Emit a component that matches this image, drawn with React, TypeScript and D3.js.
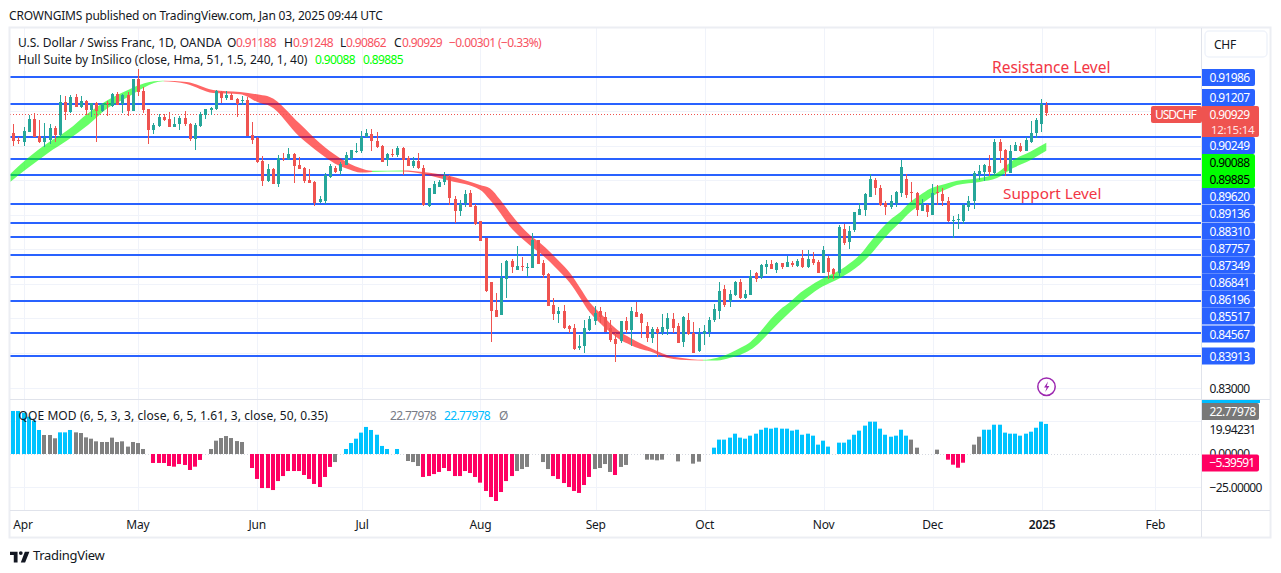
import React from "react";
import * as d3 from "d3";

// Prices below are in units of 0.0001 CHF.
const opens = [9036,9017,9011,9040,9077,9028,9011,9016,9051,9031,9126,9097,9141,9113,9130,9103,9122,9100,9122,9115,
9149,9120,9147,9101,9193,9158,9105,9045,9057,9084,9076,9054,9064,9079,9063,9020,9057,9089,9103,9107,
9156,9138,9147,9134,9130,9132,9030,9022,8955,8899,8933,8889,8963,8961,8976,8944,8935,8901,8895,8837,
8840,8910,8936,8928,8944,8963,8983,8985,9024,9034,9013,8999,8957,8976,8973,8992,8965,8941,8956,8934,
8825,8861,8881,8894,8910,8845,8812,8833,8862,8825,8782,8732,8606,8524,8510,8613,8666,8640,8652,8647,
8646,8727,8661,8629,8539,8513,8520,8478,8472,8415,8420,8465,8493,8520,8505,8471,8441,8436,8493,8467,
8518,8513,8478,8444,8469,8460,8468,8497,8478,8433,8496,8457,8406,8455,8462,8496,8522,8584,8549,8568,
8605,8559,8569,8631,8619,8650,8658,8640,8659,8650,8660,8653,8676,8650,8672,8663,8632,8675,8643,8630,
8759,8721,8756,8800,8814,8852,8901,8877,8833,8821,8835,8864,8904,8866,8863,8812,8827,8799,8866,8860,
8839,8782,8787,8782,8823,8840,8918,8925,8941,8922,9011,8986,8922,8984,8999,8985,9011,9036,9063,9119];
const closes = [9014,9014,9042,9077,9024,9011,9021,9051,9031,9126,9097,9142,9113,9129,9103,9122,9100,9120,9120,9150,
9118,9147,9100,9193,9155,9103,9045,9060,9084,9074,9054,9064,9081,9063,9020,9060,9092,9105,9108,9157,
9139,9147,9132,9120,9132,9028,9016,8954,8899,8933,8889,8963,8961,8976,8941,8932,8899,8892,8833,8845,
8914,8941,8924,8947,8973,8987,8985,9024,9036,9012,8997,8954,8976,8973,8993,8959,8941,8956,8935,8828,
8877,8889,8895,8912,8849,8812,8832,8860,8823,8774,8725,8578,8520,8505,8618,8666,8650,8652,8648,8649,
8727,8658,8626,8536,8513,8522,8471,8469,8412,8421,8471,8497,8515,8503,8461,8438,8426,8493,8467,8522,
8505,8488,8442,8469,8457,8474,8500,8473,8430,8505,8454,8401,8455,8464,8496,8527,8579,8538,8570,8605,
8558,8571,8623,8615,8655,8658,8643,8661,8650,8663,8655,8665,8648,8672,8660,8631,8698,8635,8629,8764,
8719,8753,8808,8817,8860,8904,8877,8828,8821,8839,8866,8937,8857,8864,8814,8828,8808,8862,8864,8840,
8782,8784,8789,8828,8840,8920,8927,8944,8923,9011,8985,8927,8984,9002,8983,9016,9037,9074,9120,9093];
const highs = [9063,9026,9055,9089,9093,9074,9066,9063,9057,9147,9144,9146,9149,9144,9132,9124,9126,9122,9129,9153,
9155,9149,9156,9193,9221,9171,9105,9065,9092,9092,9096,9082,9086,9100,9066,9065,9098,9105,9113,9161,
9159,9157,9151,9139,9144,9140,9068,9024,8970,8947,8935,8973,8978,8992,8978,8966,8937,8931,8899,8854,
8922,8947,8941,8954,8982,8987,9009,9042,9048,9048,9039,9002,8978,8989,8999,8995,8970,8968,8978,8944,
8877,8898,8901,8924,8915,8854,8843,8872,8872,8831,8782,8732,8606,8573,8659,8669,8671,8710,8679,8659,
8746,8727,8669,8631,8558,8534,8538,8481,8484,8452,8496,8507,8536,8534,8518,8496,8457,8493,8505,8534,
8548,8515,8491,8474,8476,8513,8517,8517,8486,8507,8515,8491,8471,8481,8505,8541,8605,8597,8582,8608,
8613,8582,8640,8635,8658,8669,8669,8663,8661,8682,8667,8671,8698,8698,8691,8669,8710,8682,8646,8771,
8773,8767,8809,8835,8864,8918,8906,8886,8841,8857,8869,8957,8918,8896,8866,8845,8831,8889,8886,8877,
8850,8796,8802,8830,8854,8926,8944,8947,8973,9020,9020,8989,9002,9011,9007,9024,9072,9079,9134,9125];
const lows = [8999,9005,8999,9040,9024,9007,8995,9005,9011,9024,9074,9093,9111,9110,9089,9082,9011,9097,9086,9113,
9118,9095,9086,9101,9144,9095,9005,9034,9053,9072,9054,9054,9045,9057,9013,8987,9055,9077,9089,9103,
9124,9132,9132,9084,9118,9028,9005,8951,8883,8896,8889,8879,8955,8958,8893,8931,8891,8891,8825,8833,
8831,8905,8922,8915,8944,8957,8978,8980,9024,8985,8994,8954,8941,8968,8966,8915,8941,8934,8933,8825,
8821,8860,8879,8886,8827,8777,8796,8822,8822,8770,8725,8575,8433,8503,8510,8560,8632,8640,8638,8621,
8646,8658,8616,8536,8494,8488,8470,8457,8409,8409,8401,8464,8481,8486,8461,8433,8375,8428,8457,8420,
8505,8444,8433,8430,8387,8452,8452,8457,8430,8416,8452,8401,8404,8423,8447,8491,8499,8534,8532,8565,
8555,8557,8569,8606,8615,8629,8643,8632,8644,8650,8650,8650,8646,8645,8655,8631,8631,8613,8615,8623,
8712,8702,8751,8799,8796,8850,8857,8826,8799,8816,8821,8850,8848,8838,8796,8812,8793,8799,8828,8826,
8779,8734,8760,8773,8812,8816,8901,8899,8912,8915,8951,8912,8920,8984,8982,8984,9009,9021,9038,9086];

// Hull Suite band, read at sample bars.
const hullBars = [-0.6,2.8,6.7,10.5,14.4,18.2,22.1,25.4,28.8,33.4,38.5,43.7,47.5,49.4,55.2,59,62.9,64.9,66.8,69.1,75.1,78.9,84.1,89.9,91.8,93.8,95.7,97.6,99.5,101.5,103.4,105.3,107.2,109.2,111.1,113,114.9,116.9,118.8,120.7,122.7,125.9,128.5,132.9,135.6,138.1,140.1,142,143.9,145.8,147.7,149.7,151.6,153.5,155.4,157.4,159.3,161.2,163.1,165.1,167,168.9,170.9,172.8,174.7,176.6,179.5,181.8,186.2,189.5,192.6,195.9,199];
const hullUpper = [8918,8964,9008,9045,9094,9132,9161,9181,9188,9184,9161,9155,9147,9141,9063,9008,8964,8947,8935,8927,8928,8924,8912,8886,8877,8843,8805,8770,8741,8718,8692,8663,8632,8588,8545,8516,8487,8461,8444,8429,8415,8394,8386,8380,8386,8400,8415,8432,8461,8496,8525,8548,8574,8594,8611,8626,8640,8660,8684,8721,8756,8785,8808,8837,8857,8875,8889,8898,8906,8921,8958,8982,9008];
const hullLower = [8895,8935,8979,9016,9060,9109,9141,9170,9186,9178,9152,9149,9123,9115,9025,8979,8941,8930,8922,8924,8925,8918,8898,8872,8843,8805,8765,8736,8712,8689,8663,8634,8603,8559,8516,8487,8461,8438,8424,8412,8404,8386,8380,8378,8378,8386,8395,8409,8432,8461,8490,8519,8545,8568,8588,8603,8617,8634,8655,8684,8718,8750,8779,8808,8828,8849,8872,8886,8895,8906,8935,8958,8985];
const hullTurns = [29, 69.1, 75.1, 132.9];

// Support and resistance levels.
const levels = [0.91986,0.91207,0.90249,0.8962,0.89136,0.8831,0.87757,0.87349,0.86841,0.86196,0.85517,0.84567,0.83913];
const levelLabels = ["0.91986","0.91207","0.90249","0.89620","0.89136","0.88310","0.87757","0.87349","0.86841","0.86196","0.85517","0.84567","0.83913"];
const priceGrid = [0.91,0.90,0.89,0.88,0.87,0.86,0.85,0.84,0.83];
const lastPrice = 0.90929;

// QQE MOD histogram; null means no bar that day.
const qqeValues: (number|null)[] = [32.6,32.6,31.3,28.3,25.3,18.2,14.4,14.4,11.9,16.4,16.4,18.2,16.4,15.9,12.6,11.6,9.6,9.1,9.1,12.4,
9.1,9.6,5.6,9.1,8.3,3.8,null,-6.8,-6.8,-6.8,-9.1,-9.6,-7.6,-8.3,-12.1,-9.6,-4.5,null,3.8,10.1,
12.1,13.6,12.1,9.8,9.1,null,-10.6,-18.9,-25.8,-25.8,-27.3,-20.5,-16.7,-12.9,-12.9,-12.9,-15.9,-18.9,-22.7,-25,
-17.4,-9.8,-6.1,null,3.8,8.3,11.6,16.2,20.5,18.2,14.6,6.1,3.8,null,3.8,null,-5.3,-6.1,-9.1,-17.4,
-16.7,-15.2,-13.6,-10.6,-12.9,-16.7,-16.7,-12.9,-14.4,-17.4,-21.7,-28,-32.6,-35.6,-28.8,-20.5,-16.7,-12.9,-11.4,-9.8,
null,null,-6.1,-11.4,-16.7,-18.9,-22,-25,-28,-29.5,-23.5,-17.4,-11.4,-10.6,-7.6,-13.6,-15.9,-9.8,-8.3,null,
null,null,-4.3,-4.3,-4.8,-4.3,null,null,-5.6,null,null,-7.3,-5.8,null,null,4.8,10.9,10.9,12.4,15.4,
12.4,11.6,13.9,15.4,18.4,19.9,19.2,19.9,19.2,19.2,17.7,18.4,14.6,15.4,13.9,7.1,10.1,5.6,null,8.6,
8.6,10.9,14.6,17.7,21.5,24.5,24.5,19.2,14.6,13.1,13.9,18.4,13.9,10.9,4.8,null,null,null,3.3,null,
-4.3,-8.1,-10.4,-6.6,null,7.1,13.1,18.4,18.4,22.2,22.2,16.2,15.4,15.4,13.9,15.4,16.9,19.9,24.5,22.78];
const qqeRuns: [number,string][] = [[6,"up"],[3,"flat"],[3,"up"],[15,"flat"],[11,"down"],[8,"flat"],[16,"down"],[2,"flat"],[12,"up"],[3,"flat"],[18,"down"],[7,"flat"],[8,"down"],[4,"flat"],[1,"down"],[18,"flat"],[38,"up"],[7,"flat"],[5,"down"],[2,"flat"],[13,"up"]];

// Month ticks, at fractional bar positions.
const monthLabels = ["Apr","May","Jun","Jul","Aug","Sep","Oct","Nov","Dec","2025","Feb"];
const monthBars = [2.05,24,47,67.2,90,112.2,133.2,156.1,177.1,198.2,220];

const FONT = "'Noto Sans', sans-serif";
const COL = { up:"#26a69a", down:"#ef5350", blue:"#2962ff", grid:"#f0f3fa", line:"#e0e3eb", text:"#131722", lbl:"#f7525f", gray:"#787b86" };
const QC: Record<string,string> = { up:"#00c3ff", flat:"#808080", down:"#ff0062" };
const NUM = -0.65; // tighter spacing for figures

const x = d3.scaleLinear().domain([0,199]).range([13.3,1046.3]);
const y = d3.scaleLinear().domain([0.91986,0.83]).range([77,387.5]);
const yq = d3.scaleLinear().domain([25,-25]).range([421,487]);
const py = (v:number)=>y(v/10000);

const hullPts = hullBars.map((b,i)=>({b,u:hullUpper[i],l:hullLower[i]}));
const hullArea = d3.area<any>().x(d=>x(d.b)).y0(d=>py(d.l)).y1(d=>py(d.u)).curve(d3.curveMonotoneX);

const qqeKinds: string[] = qqeRuns.flatMap(([n,k])=>Array(n).fill(k));

const levelLabelY = [77.5,97.5,145.5,196,213.5,231,248,265,282,299,316,334,356];

function T(p:any){
  const {x:tx,y:ty,size=12,fill=COL.text,anchor="start",weight,children,spacing}=p;
  return <text x={tx} y={ty} fontSize={size} fill={fill} textAnchor={anchor} fontWeight={weight} dominantBaseline="central" fontFamily={FONT} letterSpacing={spacing}>{children}</text>;
}

const rightRound=(x0:number,y0:number,w:number,h:number,r:number)=>`M${x0},${y0}H${x0+w-r}a${r},${r} 0 0 1 ${r},${r}V${y0+h-r}a${r},${r} 0 0 1 -${r},${r}H${x0}Z`;

export default function App(){
  const stopsT = hullTurns.map(t=>(x(t)-10)/(1050-10));
  const cols = ["#00ff00","#ff0000","#00ff00","#ff0000","#00ff00"];
  const stops:any[]=[];
  cols.forEach((c,i)=>{
    stops.push(<stop key={i+"a"} offset={i===0?0:stopsT[i-1]} stopColor={c}/>);
    stops.push(<stop key={i+"b"} offset={i===cols.length-1?1:stopsT[i]} stopColor={c}/>);
  });
  return (
    <svg width={1281} height={573} style={{position:"absolute",left:0,top:0,background:"#fff"}}>
      <defs>
        <linearGradient id="hull" gradientUnits="userSpaceOnUse" x1={10} x2={1050} y1={0} y2={0}>{stops}</linearGradient>
        <clipPath id="pane"><rect x={10} y={28} width={1191} height={371}/></clipPath>
      </defs>
      <T x={9} y={15} size={12} spacing={-0.18}>CROWNGIMS published on TradingView.com, Jan 03, 2025 09:44 UTC</T>

      {/* grid */}
      {monthBars.map((b,i)=><line key={i} x1={Math.round(x(b))+0.5} x2={Math.round(x(b))+0.5} y1={28} y2={510} stroke={COL.grid}/>)}
      {priceGrid.map((p,i)=><line key={i} x1={10} x2={1201} y1={Math.round(y(p))+0.5} y2={Math.round(y(p))+0.5} stroke={COL.grid}/>)}
      {[25,-25].map(v=><line key={v} x1={10} x2={1201} y1={yq(v)+0.5} y2={yq(v)+0.5} stroke={COL.grid}/>)}
      <line x1={10} x2={1201} y1={yq(0)+0.5} y2={yq(0)+0.5} stroke="#d5d8e0" strokeDasharray="1 2"/>

      <g clipPath="url(#pane)">
        {levels.map((p,i)=><line key={i} x1={10} x2={1201} y1={Math.round(y(p))} y2={Math.round(y(p))} stroke={COL.blue} strokeWidth={2}/>)}
        <path d={hullArea(hullPts)||""} fill="url(#hull)" opacity={0.6}/>
        <line x1={10} x2={1151} y1={Math.round(y(lastPrice))+0.5} y2={Math.round(y(lastPrice))+0.5} stroke={COL.down} strokeDasharray="1 2"/>
        {opens.map((o,i)=>{
          const c=closes[i], col=c>=o?COL.up:COL.down, cx=Math.round(x(i));
          const top=Math.round(py(Math.max(o,c))), bot=Math.round(py(Math.min(o,c)));
          return <g key={i}>
            <rect x={cx} y={Math.round(py(highs[i]))} width={1} height={Math.round(py(lows[i]))-Math.round(py(highs[i]))} fill={col}/>
            <rect x={cx-1} y={top} width={3} height={Math.max(1,bot-top)} fill={col}/>
          </g>;
        })}
      </g>

      {/* QQE */}
      {qqeValues.map((v,i)=>{
        if(v===null) return null;
        const a=yq(v), b=yq(0);
        return <rect key={i} x={Math.round(x(i))-2} y={Math.min(a,b)} width={4} height={Math.abs(a-b)} fill={QC[qqeKinds[i]]}/>;
      })}

      {/* annotations */}
      <T x={992} y={66.5} size={15.5} fill="#f23645">Resistance Level</T>
      <T x={1003} y={192.5} size={15.3} fill="#f23645">Support Level</T>
      <circle cx={1046.5} cy={386.7} r={8.7} fill="#fff" stroke="#9c27b0" strokeWidth={1.5}/>
      <path d="M1048,381.5l-4,6h2.6l-1.4,4.5l4.2,-6h-2.6z" fill="#9c27b0"/>

      {/* legends */}
      <T x={18} y={42} size={12}>U.S. Dollar / Swiss Franc, 1D, OANDA</T>
      <T x={227} y={42}>O</T><T x={236} y={42} fill={COL.lbl} spacing={NUM}>0.91188</T>
      <T x={284} y={42}>H</T><T x={293} y={42} fill={COL.lbl} spacing={NUM}>0.91248</T>
      <T x={340} y={42}>L</T><T x={346} y={42} fill={COL.lbl} spacing={NUM}>0.90862</T>
      <T x={394} y={42}>C</T><T x={402} y={42} fill={COL.lbl} spacing={NUM}>0.90929</T>
      <T x={449} y={42} fill={COL.lbl} spacing={-0.6}>−0.00301 (−0.33%)</T>
      <T x={18} y={59} size={12}>Hull Suite by InSilico (close, Hma, 51, 1.5, 240, 1, 40)</T>
      <T x={315} y={59} fill="#00ff00" spacing={NUM}>0.90088</T>
      <T x={363} y={59} fill="#00ff00" spacing={NUM}>0.89885</T>
      <T x={18.5} y={415} size={12} spacing={0.09}>QQE MOD (6, 5, 3, 3, close, 6, 5, 1.61, 3, close, 50, 0.35)</T>
      <T x={390} y={415} fill={COL.gray} spacing={NUM}>22.77978</T>
      <T x={444} y={415} fill="#00bcff" spacing={NUM}>22.77978</T>
      <T x={499} y={415} fill={COL.gray}>Ø</T>

      {/* frame */}
      <rect x={9.5} y={27.5} width={1261} height={510} fill="none" stroke="#eceef3" strokeWidth={2}/>
      <line x1={1201.5} x2={1201.5} y1={28} y2={537} stroke={COL.line}/>
      <line x1={10} x2={1270} y1={399.5} y2={399.5} stroke={COL.line}/>
      <line x1={10} x2={1270} y1={510.5} y2={510.5} stroke={COL.line}/>

      {/* price axis */}
      <rect x={1205} y={31} width={62} height={26} rx={4} fill="#fff" stroke="#f0f3fa" strokeWidth={1.5}/>
      <T x={1214} y={44} size={12} spacing={-0.3}>CHF</T>
      {levelLabels.map((t,i)=>{
        const cy=levelLabelY[i];
        return <g key={t}>
          <path d={rightRound(1202,cy-8.5,53,17,2)} fill={COL.blue}/>
          <T x={1209.5} y={cy} fill="#fff" spacing={NUM}>{t}</T>
        </g>;
      })}
      <path d={rightRound(1202,154,53,34,2)} fill="#00ff00"/>
      <T x={1209.5} y={162.5} fill="#000" spacing={NUM}>0.90088</T>
      <T x={1209.5} y={179.5} fill="#000" spacing={NUM}>0.89885</T>
      <rect x={1151} y={106} width={51} height={17} rx={2} fill={COL.down}/>
      <T x={1155} y={114.5} fill="#fff" spacing={-1}>USDCHF</T>
      <path d={rightRound(1202,106,57,31,2)} fill={COL.down}/>
      <T x={1209.5} y={114.5} fill="#fff" spacing={NUM}>0.90929</T>
      <T x={1211} y={129} fill="#ffe3e3" size={11.5} spacing={-0.3}>12:15:14</T>
      <T x={1209.5} y={388} spacing={NUM}>0.83000</T>

      {/* QQE axis */}
      <rect x={1202} y={400} width={58} height={3} fill="#00bcff"/>
      <path d={rightRound(1202,403,57,17,2)} fill="#787878"/>
      <T x={1209.5} y={411.5} fill="#fff" spacing={NUM}>22.77978</T>
      <T x={1209.5} y={429} spacing={NUM}>19.94231</T>
      <T x={1209.5} y={453.5} spacing={NUM}>0.00000</T>
      <path d={rightRound(1202,454.5,57,17,2)} fill="#ff0062"/>
      <T x={1209.5} y={462.5} fill="#fff" spacing={-0.8}>−5.39591</T>
      <T x={1209.5} y={487} spacing={NUM}>−25.00000</T>

      {/* time axis */}
      {monthLabels.map((m,i)=><T key={m} x={x(monthBars[i])+(i===0?-1:0)} y={524} anchor="middle" weight={m==="2025"?600:400} spacing={-0.2}>{m}</T>)}

      {/* footer */}
      <g transform="translate(10,548.5) scale(0.54)" fill="#131722">
        <path d="M14 6H0v6h7v14h7V6Zm14 20h-8l7.5-20H36l-8 20Zm-8-14a3.5 3.5 0 1 0 0-7 3.5 3.5 0 0 0 0 7Z"/>
      </g>
      <T x={33} y={555} size={13} fill="#131722" spacing={-0.3}>TradingView</T>
    </svg>
  );
}
